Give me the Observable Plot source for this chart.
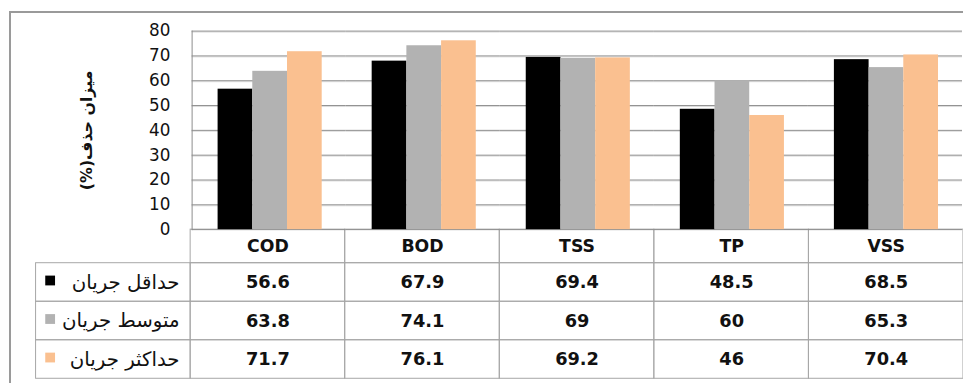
<!DOCTYPE html>
<html><head><meta charset="utf-8">
<script src="https://cdn.jsdelivr.net/npm/d3@7"></script>
<script src="https://cdn.jsdelivr.net/npm/@observablehq/plot@0.6"></script>
<style>
html,body{margin:0;padding:0;background:#fff;overflow:hidden;width:963px;height:383px;}
#wrap{position:relative;width:963px;height:383px;overflow:hidden;font-family:"DejaVu Sans",sans-serif;background:#fff;}
#wrap svg{position:absolute;left:0;top:0;}
#border{position:absolute;left:9px;top:11px;width:1100px;height:500px;border:2px solid #9a9a9a;box-sizing:border-box;}
</style></head><body>
<div id="wrap"><div id="border"></div></div>
<script>
const categories = ["COD", "BOD", "TSS", "TP", "VSS"];
const seriesNames = ["حداقل جریان", "متوسط جریان", "حداکثر جریان"];
const minFlow = [56.6, 67.9, 69.4, 48.5, 68.5];
const avgFlow = [63.8, 74.1, 69, 60, 65.3];
const maxFlow = [71.7, 76.1, 69.2, 46, 70.4];
const seriesColors = ["#000000", "#b2b2b2", "#fac090"];
const yTicks = [0, 10, 20, 30, 40, 50, 60, 70, 80];
const yTitle = "میزان حذف(%)\u200F";

const values = [minFlow, avgFlow, maxFlow];
const rows = seriesNames.flatMap((s, i) => categories.map((c, j) => ({cat: c, series: s, value: values[i][j]})));

const chart = Plot.plot({
  width: 975, height: 233, marginTop: 31, marginBottom: 1, marginLeft: 192, marginRight: 0,
  style: {background: "transparent", fontFamily: "DejaVu Sans", color: "#111", overflow: "visible"},
  fx: {domain: categories, padding: 0, axis: null},
  x: {domain: seriesNames, paddingInner: 0, paddingOuter: 0.72, axis: null, round: false},
  y: {domain: [0, 80], axis: null},
  color: {domain: seriesNames, range: seriesColors},
  marks: [
    Plot.ruleY(yTicks.slice(1), {stroke: "#dedede", strokeWidth: 1, dy: 1}),
    Plot.ruleY(yTicks, {stroke: "#8c8c8c", strokeWidth: 1}),
    Plot.barY(rows, {fx: "cat", x: "series", y: "value", fill: "series", dx: 1}),
    Plot.frame({anchor: "left", facetAnchor: "left", stroke: "#8c8c8c"}),
    Plot.axisY(yTicks, {tickSize: 0, tickPadding: 22, fontSize: 17, fill: "#111", label: null}),
    Plot.text([{cat: categories[0], t: yTitle}], {fx: "cat", text: "t", frameAnchor: "left", textAnchor: "middle", dx: -106, rotate: -90, fontSize: 16, fontWeight: "bold", fill: "#111"})
  ]
});

const table = Plot.plot({
  width: 975, height: 400, marginTop: 227, marginBottom: 17, marginLeft: 36, marginRight: 0,
  style: {background: "transparent", fontFamily: "DejaVu Sans", color: "#111"},
  x: {domain: ["legend", ...categories], padding: 0, axis: null, round: false},
  y: {domain: ["header", ...seriesNames], padding: 0, axis: null, round: false},
  color: {domain: seriesNames, range: seriesColors},
  marks: [
    Plot.cell(categories, {x: d => d, y: () => "header", inset: 0, insetTop: 5, fill: "none", stroke: "#a6a6a6"}),
    Plot.cell(rows, {x: "cat", y: "series", inset: 0, fill: "none", stroke: "#a6a6a6"}),
    Plot.cell(seriesNames, {x: () => "legend", y: d => d, inset: 0, fill: "none", stroke: "#a6a6a6"}),
    Plot.text(categories, {x: d => d, y: () => "header", dy: 3, fontSize: 17.5, fontWeight: "bold", fill: "#111"}),
    Plot.text(rows, {x: "cat", y: "series", text: d => String(d.value), fontSize: 18, fontWeight: "bold", fill: "#111"}),
    Plot.dot(seriesNames, {x: () => "legend", y: d => d, symbol: "square", r: 5.6, fill: d => d, dx: -64, dy: -2}),
    Plot.text(seriesNames, {x: () => "legend", y: d => d, text: d => d, textAnchor: "end", dx: 67, fontSize: 20, fill: "#111"})
  ]
});

const wrap = document.getElementById("wrap");
wrap.appendChild(table);
wrap.appendChild(chart);
</script>
</body></html>
